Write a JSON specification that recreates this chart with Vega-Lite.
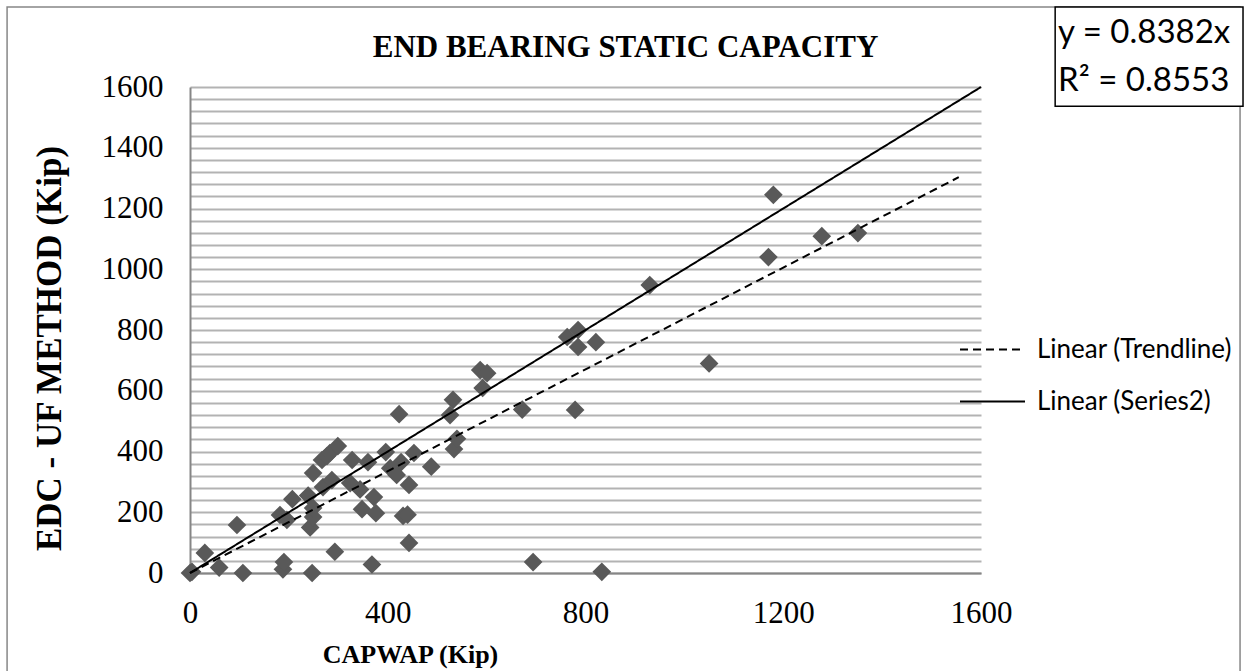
{
  "$schema": "https://vega.github.io/schema/vega-lite/v6.json",
  "width": 791,
  "height": 486,
  "autosize": {"type": "none"},
  "padding": {"left": 190, "top": 87, "right": 263, "bottom": 98},
  "background": "white",
  "config": {"view": {"stroke": null}},
  "title": {
    "text": "END BEARING STATIC CAPACITY",
    "font": "Liberation Serif",
    "fontSize": 31,
    "fontWeight": "bold",
    "color": "black",
    "anchor": "middle",
    "frame": "group",
    "dx": 40,
    "offset": -82,
    "baseline": "alphabetic"
  },
  "datasets": {
    "points": [
      {"capwap": 0, "edc": 0}, {"capwap": 4, "edc": 4}, {"capwap": 30, "edc": 66}, {"capwap": 59, "edc": 18},
      {"capwap": 95, "edc": 158}, {"capwap": 107, "edc": 0}, {"capwap": 182, "edc": 191}, {"capwap": 188, "edc": 12},
      {"capwap": 190, "edc": 36}, {"capwap": 196, "edc": 175}, {"capwap": 207, "edc": 243}, {"capwap": 239, "edc": 255},
      {"capwap": 243, "edc": 150}, {"capwap": 247, "edc": 0}, {"capwap": 249, "edc": 184}, {"capwap": 249, "edc": 214},
      {"capwap": 249, "edc": 329}, {"capwap": 267, "edc": 372}, {"capwap": 269, "edc": 283}, {"capwap": 277, "edc": 385},
      {"capwap": 283, "edc": 395}, {"capwap": 287, "edc": 306}, {"capwap": 293, "edc": 70}, {"capwap": 299, "edc": 418},
      {"capwap": 324, "edc": 296}, {"capwap": 328, "edc": 372}, {"capwap": 344, "edc": 275}, {"capwap": 348, "edc": 210},
      {"capwap": 360, "edc": 365}, {"capwap": 368, "edc": 28}, {"capwap": 372, "edc": 250}, {"capwap": 376, "edc": 197},
      {"capwap": 396, "edc": 398}, {"capwap": 405, "edc": 345}, {"capwap": 418, "edc": 323}, {"capwap": 423, "edc": 523},
      {"capwap": 427, "edc": 365}, {"capwap": 431, "edc": 188}, {"capwap": 440, "edc": 192}, {"capwap": 443, "edc": 290},
      {"capwap": 443, "edc": 99}, {"capwap": 453, "edc": 395}, {"capwap": 488, "edc": 350}, {"capwap": 526, "edc": 520},
      {"capwap": 532, "edc": 570}, {"capwap": 534, "edc": 408}, {"capwap": 540, "edc": 442}, {"capwap": 587, "edc": 668},
      {"capwap": 592, "edc": 609}, {"capwap": 601, "edc": 658}, {"capwap": 672, "edc": 538}, {"capwap": 694, "edc": 36},
      {"capwap": 763, "edc": 777}, {"capwap": 779, "edc": 537}, {"capwap": 785, "edc": 744}, {"capwap": 785, "edc": 800},
      {"capwap": 821, "edc": 760}, {"capwap": 833, "edc": 4}, {"capwap": 930, "edc": 948}, {"capwap": 1050, "edc": 690},
      {"capwap": 1170, "edc": 1040}, {"capwap": 1180, "edc": 1245}, {"capwap": 1278, "edc": 1109}, {"capwap": 1351, "edc": 1119}
    ],
    "lines": [
      {"series": "Linear (Trendline)", "capwap": 0, "edc": 0},
      {"series": "Linear (Trendline)", "capwap": 1555, "edc": 1303},
      {"series": "Linear (Series2)", "capwap": 0, "edc": 0},
      {"series": "Linear (Series2)", "capwap": 1600, "edc": 1600}
    ]
  },
  "layer": [
    {
      "data": {"name": "points"},
      "mark": {"type": "point", "shape": "diamond", "filled": true, "color": "#595959", "size": 350, "opacity": 1},
      "encoding": {
        "x": {
          "field": "capwap", "type": "quantitative",
          "scale": {"domain": [0, 1600], "nice": false, "zero": false},
          "axis": {
            "title": "CAPWAP (Kip)",
            "values": [0, 400, 800, 1200, 1600],
            "format": "d",
            "grid": false, "ticks": false, "tickSize": 0,
            "domainColor": "#868686", "domainWidth": 2,
            "labelFont": "Liberation Serif", "labelFontSize": 31, "labelColor": "black",
            "labelPadding": 49, "labelBaseline": "alphabetic", "labelFlush": false, "labelOverlap": false,
            "titleFont": "Liberation Serif", "titleFontSize": 26, "titleFontWeight": "bold", "titleColor": "black",
            "titleX": 220, "titleY": 89, "titleBaseline": "alphabetic", "titleAlign": "center"
          }
        },
        "y": {
          "field": "edc", "type": "quantitative",
          "scale": {"domain": [0, 1600], "nice": false, "zero": false},
          "axis": {
            "title": "EDC - UF METHOD (Kip)",
            "values": [0, 40, 80, 120, 160, 200, 240, 280, 320, 360, 400, 440, 480, 520, 560, 600, 640, 680, 720, 760, 800, 840, 880, 920, 960, 1000, 1040, 1080, 1120, 1160, 1200, 1240, 1280, 1320, 1360, 1400, 1440, 1480, 1520, 1560, 1600],
            "tickCount": 60,
            "format": "d",
            "labelExpr": "datum.value % 200 === 0 ? datum.label : ''",
            "grid": true, "gridColor": "#b3b3b3", "gridWidth": 2,
            "ticks": false, "tickSize": 0,
            "domainColor": "#868686", "domainWidth": 2,
            "labelFont": "Liberation Serif", "labelFontSize": 31, "labelColor": "black",
            "labelPadding": 27, "labelBaseline": "middle", "labelFlush": false, "labelOverlap": false,
            "titleFont": "Liberation Serif", "titleFontSize": 35, "titleFontWeight": "bold", "titleColor": "black",
            "titleX": -130, "titleY": 261, "titleBaseline": "alphabetic", "titleAlign": "center", "titleAngle": -90
          }
        }
      }
    },
    {
      "data": {"name": "lines"},
      "mark": {"type": "line", "color": "black", "strokeWidth": 2},
      "encoding": {
        "x": {"field": "capwap", "type": "quantitative"},
        "y": {"field": "edc", "type": "quantitative"},
        "strokeDash": {
          "field": "series", "type": "nominal",
          "scale": {"domain": ["Linear (Trendline)", "Linear (Series2)"], "range": [[8, 5], [1, 0]]},
          "legend": {
            "title": null, "orient": "none", "legendX": 769, "legendY": 250, "padding": 0,
            "symbolType": "stroke", "symbolSize": 4225, "symbolStrokeWidth": 2, "symbolStrokeColor": "black",
            "labelFont": "Lato", "labelFontSize": 26, "labelColor": "black", "labelOffset": 11, "labelLimit": 400,
            "clipHeight": 25, "rowPadding": 25
          }
        }
      }
    },
    {
      "data": {"values": [{}]},
      "mark": {"type": "rect", "fillOpacity": 0, "stroke": "#878787", "strokeWidth": 1.5},
      "encoding": {
        "x": {"datum": -370, "type": "quantitative"},
        "x2": {"datum": 2124},
        "y": {"datum": 1863, "type": "quantitative"},
        "y2": {"datum": -352}
      }
    },
    {
      "data": {"values": [{}]},
      "mark": {"type": "rect", "fill": "white", "stroke": "black", "strokeWidth": 1.5},
      "encoding": {
        "x": {"datum": 1750, "type": "quantitative"},
        "x2": {"datum": 2130},
        "y": {"datum": 1863, "type": "quantitative"},
        "y2": {"datum": 1537}
      }
    },
    {
      "data": {"values": [{}]},
      "mark": {"type": "text", "text": "y = 0.8382x", "font": "Lato", "fontSize": 33, "color": "black", "align": "left", "baseline": "alphabetic"},
      "encoding": {
        "x": {"datum": 1756, "type": "quantitative"},
        "y": {"datum": 1745, "type": "quantitative"}
      }
    },
    {
      "data": {"values": [{}]},
      "mark": {"type": "text", "text": "R² = 0.8553", "font": "Lato", "fontSize": 33, "color": "black", "align": "left", "baseline": "alphabetic"},
      "encoding": {
        "x": {"datum": 1756, "type": "quantitative"},
        "y": {"datum": 1587, "type": "quantitative"}
      }
    }
  ]
}
